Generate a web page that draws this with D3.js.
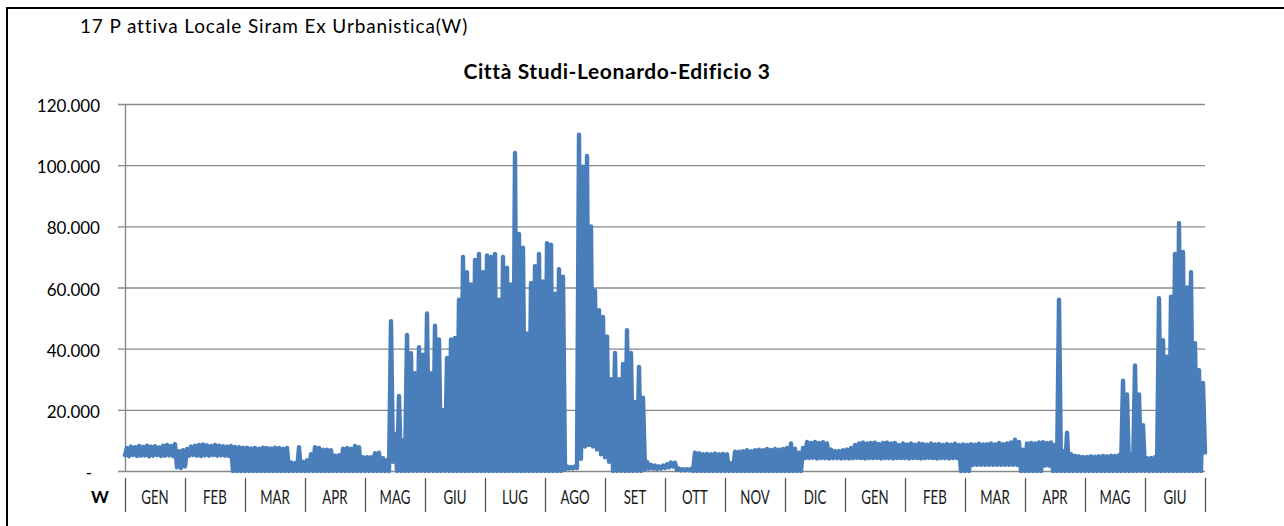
<!DOCTYPE html>
<html>
<head>
<meta charset="utf-8">
<script src="https://cdn.jsdelivr.net/npm/d3@7"></script>
<style>
  html, body { margin: 0; padding: 0; background: #fff; }
  svg { display: block; }
</style>
</head>
<body>
<svg id="chart" width="1284" height="526"></svg>
<script>
// ---------------- DATA ----------------
const headerText = "17 P attiva Locale Siram Ex Urbanistica(W)";
const chartTitle = "Città Studi-Leonardo-Edificio 3";
const unitLabel = "W";
const months = ["GEN","FEB","MAR","APR","MAG","GIU","LUG","AGO","SET","OTT","NOV","DIC",
                "GEN","FEB","MAR","APR","MAG","GIU"];
const yTickValues = [0, 20000, 40000, 60000, 80000, 100000, 120000];
const yTickLabels = ["-", "20.000", "40.000", "60.000", "80.000", "100.000", "120.000"];
const stepsPerMonth = 15; // each sample pair ≈ 2 days

// daily-ish maxima (kW) — 15 samples per month
const hiK = [
  // GEN
  7.5, 8, 7.8, 8.2, 7.9, 8.3, 8, 8.1, 7.7, 8.3, 8.5, 8.2, 8.8, 6.5, 6.8,
  // FEB
  7.2, 8, 8.3, 8.5, 8.7, 8.4, 8.2, 8.5, 8.3, 8.1, 8, 8.2, 7.9, 7.8, 7.6,
  // MAR
  7.6, 7.4, 7.5, 7.3, 7.6, 7.5, 7.4, 7.6, 7.5, 7.3, 7.5, 2.8, 2.6, 7.8, 3,
  // APR
  3.5, 5.5, 7.8, 7.5, 7, 7, 6.8, 5, 5.2, 7.3, 7.5, 7.3, 8.2, 7.8, 4.5,
  // MAG
  4.5, 4.5, 5.8, 6, 4.2, 3.5, 49, 12, 24.5, 10, 44.5, 38.5, 32, 40.5, 38,
  // GIU
  51.5, 32, 47.5, 43, 20, 37, 43, 43.5, 56, 70, 65, 61, 69, 71, 65,
  // LUG
  70.5, 70, 71, 56, 70, 66.5, 61, 104, 77.5, 73, 45, 61.5, 67, 71, 62,
  // AGO
  74.5, 74, 58, 66, 63.5, 1.5, 1.3, 1.5, 110, 99.5, 103, 80, 59, 52.6, 50.4,
  // SET
  44, 30, 38.6, 30, 35, 46, 38.6, 22.6, 34, 24, 3, 2, 1.8, 1.5, 1.8,
  // OTT
  2.2, 2.8, 2.7, 0.8, 0.6, 0.6, 0.7, 6, 5.8, 5.5, 5.6, 5.5, 5.7, 5.5, 5.6,
  // NOV
  5.5, 2.5, 6.3, 6.3, 6.5, 6.8, 6.5, 6.8, 7, 6.8, 7.2, 6.9, 7.2, 7, 7.2,
  // DIC
  7.5, 9, 7.3, 6, 7.5, 9.5, 9.2, 9.5, 9.2, 9.4, 9, 7, 6.5, 6.5, 6.8,
  // GEN
  7, 7.5, 8.5, 9, 9.3, 9, 9.2, 9.3, 8.8, 9.2, 9.3, 9, 9.2, 8.5, 9,
  // FEB
  8.7, 9, 8.6, 9, 8.8, 8.6, 9, 8.7, 8.8, 8.5, 8.8, 8.6, 8.9, 8.5, 8.7,
  // MAR
  8.5, 8.8, 8.6, 8.9, 8.7, 8.8, 9, 8.7, 9.2, 8.8, 9, 9.3, 10.2, 9.5, 7,
  // APR
  9, 9.2, 9, 9.3, 9.4, 9.2, 9.3, 8.5, 56, 6.5, 12.5, 5.5, 5, 4.8, 4.6,
  // MAG
  4.6, 4.8, 4.7, 4.8, 4.9, 4.8, 5, 4.9, 5.2, 29.5, 25, 5.5, 34.5, 25, 15,
  // GIU
  4.2, 4.3, 4.5, 56.5, 42.8, 37.4, 57, 71, 81, 71.6, 60, 65, 41.8, 33, 28.8
];

// daily-ish minima (kW) — 15 samples per month, plus the closing value
const loK = [
  // GEN
  5.2, 4.8, 5.2, 4.9, 5, 5.1, 4.8, 5, 5.2, 4.9, 5, 5.1, 4.9, 1.2, 1,
  // FEB
  1.5, 5, 5.2, 5, 4.9, 5.1, 5, 5.2, 5, 5.1, 5, 4.9, 0, 0, 0,
  // MAR
  0, 0, 0, 0, 0, 0, 0, 0, 0, 0, 0, 0, 0, 0, 0,
  // APR
  0, 0, 0, 0, 0, 0, 0, 0, 0, 0, 0, 0, 0, 0, 0,
  // MAG
  0, 0, 0, 0, 0, 0, 0, 3, 0, 0, 0, 0, 0, 0, 0,
  // GIU
  0, 0, 0, 0, 0, 0, 0, 0, 0, 0, 0, 0, 0, 0, 0,
  // LUG
  0, 0, 0, 0, 0, 0, 0, 0, 0, 0, 0, 0, 0, 0, 0,
  // AGO
  0, 0, 0, 0, 0, 0.5, 0.8, 0.8, 1, 4, 8, 8.5, 8, 7, 5.5,
  // SET
  4.5, 3, 0, 0, 0, 0, 0, 0, 0, 0, 0.5, 0.8, 0.8, 0.6, 0.8,
  // OTT
  1, 1.2, 1.5, 0.3, 0.2, 0.2, 0.2, 0, 0, 0, 0, 0, 0, 0, 0,
  // NOV
  0, 0, 0, 0, 0, 0, 0, 0, 0, 0, 0, 0, 0, 0, 0,
  // DIC
  0, 0, 0, 0, 0, 4.2, 4.2, 4.3, 4.1, 4.2, 4.2, 4.1, 4.2, 4.2, 4.1,
  // GEN
  4.2, 4.1, 4.2, 4.3, 4.2, 4.1, 4.2, 4.2, 4.3, 4.1, 4.2, 4.2, 4.1, 4.2, 4.2,
  // FEB
  4.2, 4.1, 4.2, 4.2, 4.1, 4.2, 4.3, 4.2, 4.1, 4.2, 4.2, 4.1, 4.2, 4.2, 0,
  // MAR
  0, 0, 2, 2, 2, 2, 2, 2, 2, 2, 2, 2, 2, 2, 0,
  // APR
  0, 0, 0, 0, 0, 1.8, 1.8, 0, 0, 0, 0, 0, 0, 0, 0,
  // MAG
  0, 0, 0, 0, 0, 0, 0, 0, 0, 0, 0, 0, 0, 0, 0,
  // GIU
  0, 0, 0, 0, 0, 0, 0, 0, 0, 0, 0, 0, 0, 0, 0,
  // closing value
  6
];

// ---------------- DRAW ----------------
const svg = d3.select("#chart");
const W = 1284, H = 526;
const plot = { left: 125, right: 1205, top: 104, bottom: 471 };
const font = "Lato, 'Open Sans', sans-serif";

svg.append("rect").attr("width", W).attr("height", H).attr("fill", "#fff");

// outer frame (top + left edges visible)
svg.append("path")
  .attr("d", `M7,${H + 2} L7,8 L${W + 2},8`)
  .attr("fill", "none").attr("stroke", "#000").attr("stroke-width", 2);

const x = d3.scaleLinear().domain([0, months.length]).range([plot.left, plot.right]);
const xb = d3.scaleBand().domain(d3.range(months.length)).range([plot.left, plot.right]);
const y = d3.scaleLinear().domain([0, 120000]).range([plot.bottom, plot.top]);

// header text
svg.append("text").attr("x", 80).attr("y", 33)
  .attr("font-family", font).attr("font-size", 19)
  .attr("letter-spacing", 0.85)
  .attr("fill", "#000").text(headerText);

// chart title
svg.append("text").attr("x", 617).attr("y", 79).attr("text-anchor", "middle")
  .attr("font-family", font).attr("font-size", 21)
  .attr("letter-spacing", 0.6)
  .attr("font-weight", "bold").attr("fill", "#000").text(chartTitle);

// gridlines + y tick labels via d3 axis
const yAxis = d3.axisLeft(y)
  .tickValues(yTickValues)
  .tickSize(-(plot.right - plot.left) - 7)
  .tickFormat((d, i) => yTickLabels[i]);
const gy = svg.append("g").attr("transform", `translate(${plot.left - 7},0)`).call(yAxis);
gy.select(".domain").remove();
gy.selectAll(".tick line").attr("stroke", "#888").attr("stroke-width", 1.4);
gy.selectAll(".tick text")
  .attr("x", -(plot.left - 7 - 100))
  .attr("dy", "0.45em")
  .attr("dx", d => d === 0 ? -8 : 0)
  .attr("font-family", font)
  .attr("font-size", 17).attr("fill", "#000");

// y axis line
svg.append("line").attr("x1", plot.left + 0.5).attr("x2", plot.left + 0.5)
  .attr("y1", plot.top).attr("y2", plot.bottom)
  .attr("stroke", "#888").attr("stroke-width", 1.4);

// category separators
const seps = d3.range(months.length + 1);
svg.append("g").selectAll("line").data(seps).join("line")
  .attr("x1", d => x(d) + 0.5).attr("x2", d => x(d) + 0.5)
  .attr("y1", 478).attr("y2", 512)
  .attr("stroke", "#555").attr("stroke-width", 1.3);

// month labels
svg.append("g").selectAll("text").data(months).join("text")
  .attr("transform", (d, i) => `translate(${xb(i) + xb.bandwidth() / 2},504) scale(0.7,1)`)
  .attr("text-anchor", "middle")
  .attr("font-family", font).attr("font-size", 19)
  .attr("fill", "#1a1a1a")
  .text(d => d);

// unit label
svg.append("text").attr("x", 100).attr("y", 503).attr("text-anchor", "middle")
  .attr("font-family", font).attr("font-size", 17)
  .attr("font-weight", "bold").attr("fill", "#000").text(unitLabel);

// data line: alternating minima and maxima
const pts = [];
hiK.forEach((h, i) => {
  pts.push([i / stepsPerMonth, loK[i] * 1000]);
  pts.push([(i + 0.5) / stepsPerMonth, h * 1000]);
});
pts.push([hiK.length / stepsPerMonth, loK[hiK.length] * 1000]);

const line = d3.line().x(d => x(d[0])).y(d => y(d[1]));
svg.append("path").datum(pts)
  .attr("d", line)
  .attr("fill", "none")
  .attr("stroke", "#4a7ebb")
  .attr("stroke-width", 4.4)
  .attr("stroke-linejoin", "round")
  .attr("stroke-linecap", "round");
</script>
</body>
</html>
